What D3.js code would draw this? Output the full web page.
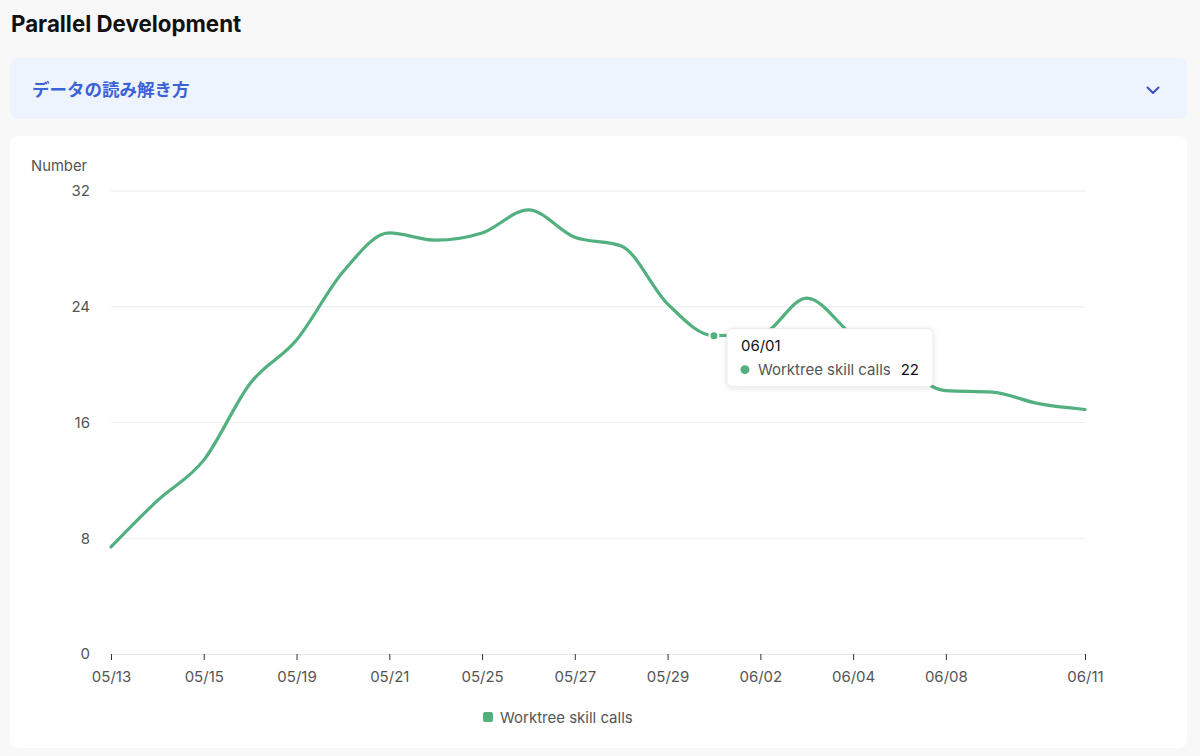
<!DOCTYPE html>
<html>
<head>
<meta charset="utf-8">
<script src="https://cdn.jsdelivr.net/npm/d3@7/dist/d3.min.js"></script>
<style>
  html, body { margin: 0; padding: 0; background: #f8f8f8; }
  body { width: 1200px; height: 756px; overflow: hidden; font-family: Inter, "Noto Sans", "Noto Sans CJK JP", sans-serif; }
  svg { display: block; }
</style>
</head>
<body>
<svg id="chart" width="1200" height="756"></svg>
<script>
// ---- data ----
const dates = ["05/13","05/14","05/15","05/16","05/19","05/20","05/21","05/22","05/25","05/26","05/27",
               "05/28","05/29","06/01","06/02","06/03","06/04","06/05","06/08","06/09","06/10","06/11"];
const worktreeCalls = [7.4, 10.6, 13.4, 18.7, 21.7, 26.4, 29.1, 28.6, 29.1, 30.7, 28.8,
                       28.2, 24.2, 22, 22.1, 24.6, 22.0, 20.0, 18.2, 18.1, 17.3, 16.9];
const xTickLabels = ["05/13","05/15","05/19","05/21","05/25","05/27","05/29","06/02","06/04","06/08","06/11"];
const yTicks = [0, 8, 16, 24, 32];
const seriesName = "Worktree skill calls";
const highlightDate = "06/01";

// ---- styling ----
const green = "#52b07f";
const svg = d3.select("#chart");

// page title
svg.append("text").attr("x", 11).attr("y", 32)
  .attr("font-size", 22.3).attr("font-weight", 700).attr("fill", "#111")
  .text("Parallel Development");

// accordion box
svg.append("rect").attr("x", 10).attr("y", 58).attr("width", 1177).attr("height", 61)
  .attr("rx", 8).attr("fill", "#eef4fe");
svg.append("text").attr("x", 32).attr("y", 95.5)
  .attr("font-family", '"Noto Sans CJK JP", sans-serif')
  .attr("font-size", 17.5).attr("font-weight", 600).attr("fill", "#3a62d4")
  .text("データの読み解き方");
svg.append("path").attr("d", "M1147.5,87.5 L1153,93 L1158.5,87.5")
  .attr("fill", "none").attr("stroke", "#3a4fc2").attr("stroke-width", 2)
  .attr("stroke-linecap", "round").attr("stroke-linejoin", "round");

// card
svg.append("rect").attr("x", 10).attr("y", 136).attr("width", 1177).attr("height", 612)
  .attr("rx", 8).attr("fill", "#ffffff");

// scales
const x = d3.scalePoint().domain(dates).range([111, 1085]);
const y = d3.scaleLinear().domain([0, 32]).range([654, 191]);

// gridlines
svg.append("g").selectAll("line").data(yTicks.filter(d => d > 0)).join("line")
  .attr("x1", 111).attr("x2", 1085)
  .attr("y1", d => y(d)).attr("y2", d => y(d))
  .attr("stroke", "#ececf1").attr("stroke-width", 1);

// y axis labels
const yAxis = svg.append("g").attr("transform", "translate(111,0)")
  .call(d3.axisLeft(y).tickValues(yTicks).tickSize(0).tickPadding(21));
yAxis.select(".domain").remove();
yAxis.selectAll("text").attr("font-size", 15).attr("fill", "#555")
  .attr("font-family", "Inter, sans-serif");

svg.append("text").attr("x", 31).attr("y", 171)
  .attr("font-size", 14.8).attr("fill", "#555").text("Number");

// x axis
const xAxis = svg.append("g").attr("transform", "translate(0,654)")
  .call(d3.axisBottom(x).tickValues(xTickLabels).tickSize(6).tickPadding(11).tickSizeOuter(0));
xAxis.select(".domain").attr("stroke", "#e6e6e6").attr("d", "M111,0.5H1085");
xAxis.selectAll(".tick line").attr("stroke", "#333").attr("stroke-width", 1);
xAxis.selectAll("text").attr("font-size", 15).attr("fill", "#555")
  .attr("font-family", "Inter, sans-serif");

// line
const line = d3.line()
  .x((d, i) => x(dates[i]))
  .y(d => y(d))
  .curve(d3.curveMonotoneX);
svg.append("path").datum(worktreeCalls)
  .attr("fill", "none").attr("stroke", green).attr("stroke-width", 3.2)
  .attr("stroke-linejoin", "round").attr("stroke-linecap", "round")
  .attr("d", line);

// highlighted point
const hi = dates.indexOf(highlightDate);
const hx = x(highlightDate), hy = y(worktreeCalls[hi]);
svg.append("circle").attr("cx", hx).attr("cy", hy).attr("r", 4.5)
  .attr("fill", green).attr("stroke", "#fff").attr("stroke-width", 2);

// tooltip
const defs = svg.append("defs");
const f = defs.append("filter").attr("id", "sh").attr("x", "-20%").attr("y", "-30%")
  .attr("width", "140%").attr("height", "160%");
f.append("feDropShadow").attr("dx", 0).attr("dy", 1).attr("stdDeviation", 2.5)
  .attr("flood-color", "#000").attr("flood-opacity", 0.12);
const tt = svg.append("g").attr("transform", `translate(${hx + 13},${hy - 7})`);
tt.append("rect").attr("width", 206).attr("height", 58).attr("rx", 5)
  .attr("fill", "#fff").attr("stroke", "#e9e9e9").attr("filter", "url(#sh)");
tt.append("text").attr("x", 14).attr("y", 22).attr("font-size", 15)
  .attr("fill", "#111").text(highlightDate);
tt.append("circle").attr("cx", 18).attr("cy", 41).attr("r", 4.5).attr("fill", green);
tt.append("text").attr("x", 31).attr("y", 46).attr("font-size", 15)
  .attr("fill", "#555").text(seriesName);
tt.append("text").attr("x", 192).attr("y", 46).attr("font-size", 15)
  .attr("text-anchor", "end").attr("fill", "#111").text(Math.round(worktreeCalls[hi]));

// legend
svg.append("rect").attr("x", 483).attr("y", 712).attr("width", 10).attr("height", 10)
  .attr("rx", 2).attr("fill", green);
svg.append("text").attr("x", 500).attr("y", 722.5).attr("font-size", 15)
  .attr("fill", "#555").text(seriesName);
</script>
</body>
</html>
